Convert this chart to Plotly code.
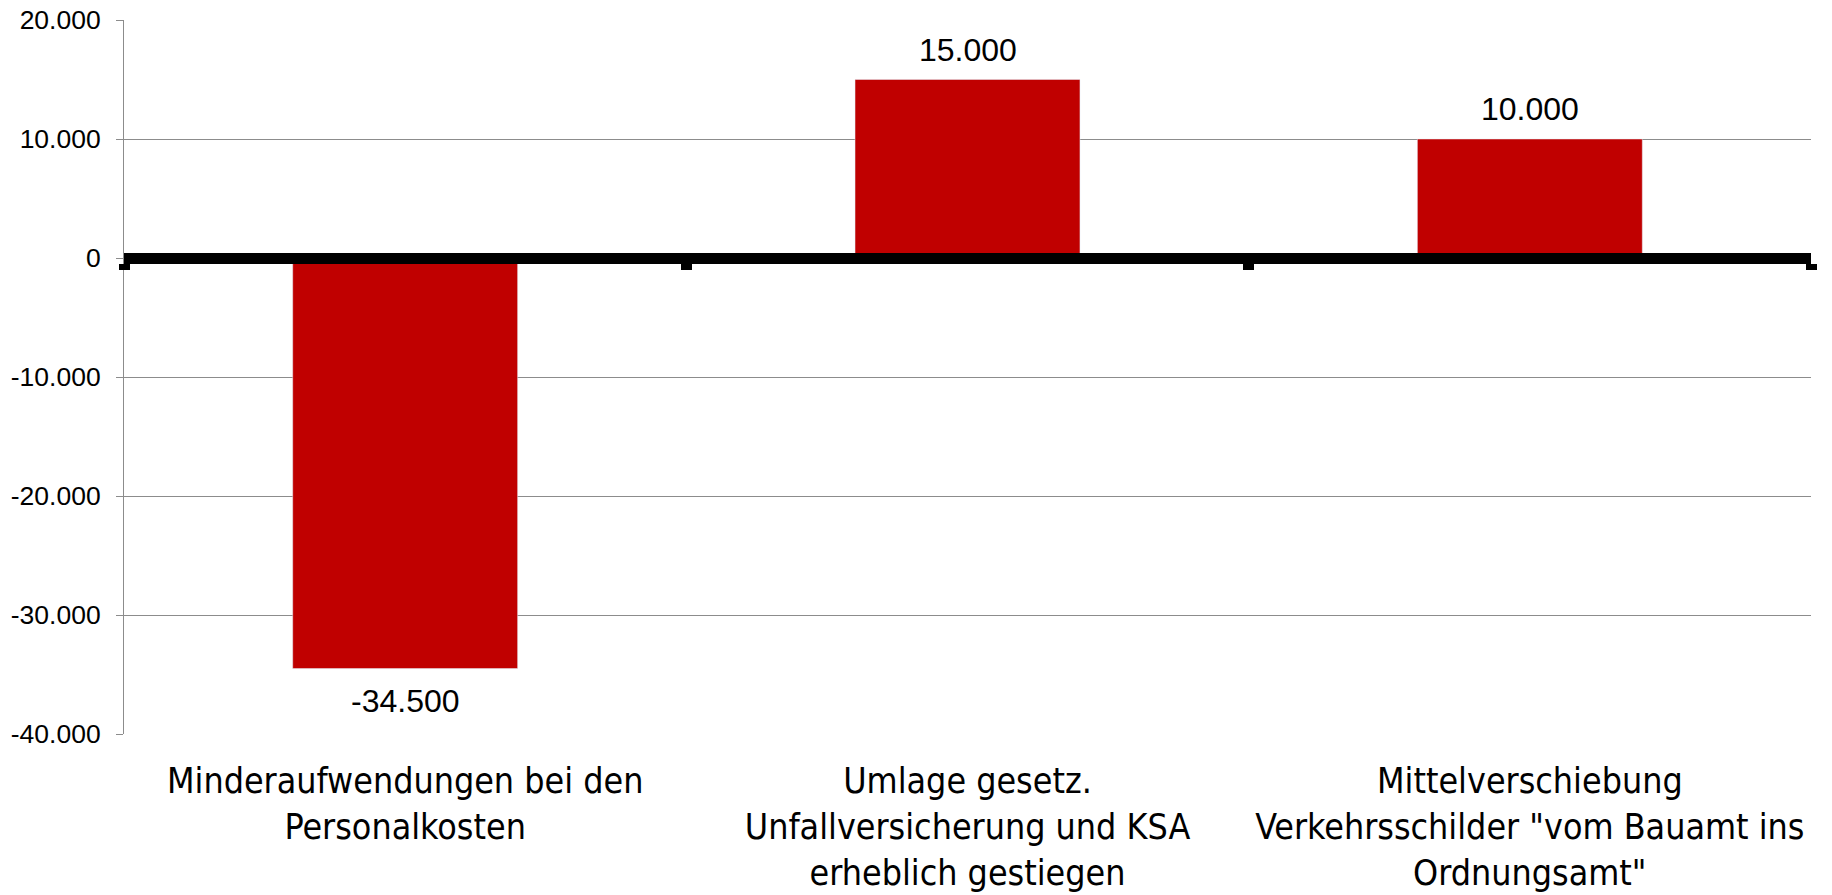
import plotly.graph_objects as go

categories = [
    "Minderaufwendungen bei den<br>Personalkosten",
    "Umlage gesetz.<br>Unfallversicherung und KSA<br>erheblich gestiegen",
    "Mittelverschiebung<br>Verkehrsschilder \"vom Bauamt ins<br>Ordnungsamt\"",
]
values = [-34500, 15000, 10000]
y_tickvals = [20000, 10000, 0, -10000, -20000, -30000, -40000]
y_ticktext = ["20.000", "10.000", "0", "-10.000", "-20.000", "-30.000", "-40.000"]


def fmt(v):
    return f"{v:,}".replace(",", ".")


BAR_COLOR = "#C00000"
GRID = "#8C8C8C"
CAT_FONT = "DejaVu Sans Condensed, DejaVu Sans, sans-serif"
NUM_FONT = "Liberation Sans, Arial, sans-serif"

fig = go.Figure()
fig.add_trace(go.Bar(
    x=categories, y=values, marker=dict(color=BAR_COLOR, line=dict(width=0)),
    hoverinfo="skip", showlegend=False,
))
# transparent copy on the zero-line axis so that axis is drawn
fig.add_trace(go.Bar(
    x=categories, y=values, xaxis="x2", marker=dict(color="rgba(0,0,0,0)"),
    hoverinfo="skip", showlegend=False,
))

for c, v in zip(categories, values):
    fig.add_annotation(
        x=c, y=v, xref="x", yref="y", text=fmt(v), showarrow=False,
        yanchor="bottom" if v >= 0 else "top",
        yshift=10 if v >= 0 else -12,
        font=dict(family=NUM_FONT, size=32, color="#000000"),
    )

fig.update_layout(
    width=1832, height=895,
    margin=dict(l=124, r=21, t=20, b=161, autoexpand=False),
    paper_bgcolor="white", plot_bgcolor="white",
    bargap=0.6, barmode="overlay",
    xaxis=dict(
        categoryorder="array", categoryarray=categories, automargin=False,
        range=[-0.5, 2.5], showgrid=False, zeroline=False, showline=False,
        ticks="", tickangle=0, ticklabelstandoff=22,
        tickfont=dict(family=CAT_FONT, size=35.5, color="#000000"),
    ),
    xaxis2=dict(
        overlaying="x", anchor="free", position=2 / 3, automargin=False,
        categoryorder="array", categoryarray=categories,
        range=[-0.5, 2.5], showgrid=False, zeroline=False,
        showline=True, linecolor="#000000", linewidth=11,
        ticks="outside", tickson="boundaries", ticklen=6, tickwidth=11,
        tickcolor="#000000", showticklabels=False, layer="above traces",
    ),
    yaxis=dict(
        range=[-40000, 20000], tickvals=y_tickvals, ticktext=y_ticktext,
        automargin=False,
        showgrid=True, gridcolor=GRID, gridwidth=1, zeroline=False,
        showline=True, linecolor=GRID, linewidth=1,
        ticks="outside", ticklen=7, tickcolor=GRID, tickwidth=1,
        ticklabelstandoff=10,
        tickfont=dict(family=NUM_FONT, size=26.5, color="#000000"),
    ),
)

fig.write_html(
    "out.html",
    config={"displayModeBar": False},
    post_script="document.body.style.margin='0';document.body.style.overflow='hidden';",
)
